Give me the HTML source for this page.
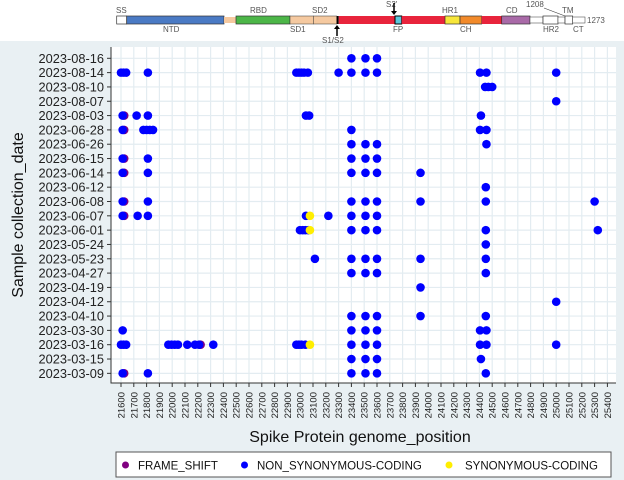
<!DOCTYPE html>
<html><head><meta charset="utf-8"><style>
html,body{margin:0;padding:0;background:#fff}
svg{display:block;font-family:"Liberation Sans",sans-serif}
</style></head><body>
<svg id="c" width="624" height="480" xmlns="http://www.w3.org/2000/svg">
<rect x="0" y="0" width="624" height="480" fill="#fff"/>
<rect x="0" y="41" width="624" height="439" fill="#e9f0f3"/>
<g id="protein" font-size="8" fill="#555">
<rect x="116.7" y="16" width="10" height="8" fill="#fff" stroke="#333" stroke-width="0.7"/>
<rect x="126.7" y="16" width="97.3" height="8" fill="#4a7ac4" stroke="#333" stroke-width="0.7"/>
<rect x="224" y="17" width="12" height="6" fill="#f5c9a0"/>
<rect x="236" y="16" width="54" height="8" fill="#4cb648" stroke="#333" stroke-width="0.7"/>
<rect x="290" y="16" width="23.3" height="8" fill="#f5c9a0" stroke="#333" stroke-width="0.5"/>
<rect x="313.3" y="16" width="23.4" height="8" fill="#f5c9a0" stroke="#333" stroke-width="0.5"/>
<rect x="336.7" y="16" width="2" height="8" fill="#000"/>
<rect x="338.7" y="16" width="56.3" height="8" fill="#e8243c"/>
<rect x="395" y="16" width="6.7" height="8" fill="#5bc8dc" stroke="#000" stroke-width="1"/>
<rect x="401.7" y="16" width="43.3" height="8" fill="#e8243c"/>
<rect x="445" y="16" width="15" height="8" fill="#f7e63a" stroke="#333" stroke-width="0.7"/>
<rect x="460" y="16" width="21.7" height="8" fill="#f28a2a" stroke="#333" stroke-width="0.7"/>
<rect x="481.7" y="16" width="20" height="8" fill="#e8243c"/>
<rect x="501.7" y="16" width="28.3" height="8" fill="#a96aa8" stroke="#333" stroke-width="0.7"/>
<rect x="530" y="17" width="13" height="6" fill="#fff" stroke="#333" stroke-width="0.5"/>
<rect x="543" y="16" width="15" height="8" fill="#fff" stroke="#333" stroke-width="0.7"/>
<rect x="558" y="17" width="7" height="6" fill="#fff" stroke="#333" stroke-width="0.5"/>
<rect x="565" y="16" width="7.7" height="8" fill="#fff" stroke="#333" stroke-width="0.7"/>
<rect x="572.7" y="17" width="12.3" height="6" fill="#fff" stroke="#333" stroke-width="0.5"/>
<text x="116" y="13">SS</text><text x="250" y="13">RBD</text><text x="312" y="13">SD2</text>
<text x="386" y="7">S2'</text><text x="442" y="13">HR1</text><text x="506" y="13">CD</text>
<text x="526" y="7">1208</text><text x="562" y="13">TM</text><text x="587" y="23">1273</text>
<text x="163" y="32">NTD</text><text x="290" y="32">SD1</text><text x="393" y="32">FP</text>
<text x="460" y="32">CH</text><text x="543" y="32">HR2</text><text x="573" y="32">CT</text>
<text x="322" y="43">S1/S2</text>
<line x1="394" y1="3" x2="394" y2="13" stroke="#000" stroke-width="1.5"/><path d="M391 11 L397 11 L394 15Z" fill="#000"/>
<line x1="337" y1="27" x2="337" y2="36" stroke="#000" stroke-width="1.5"/><path d="M334 29 L340 29 L337 25Z" fill="#000"/>
<line x1="544" y1="8" x2="565" y2="16" stroke="#333" stroke-width="0.6"/>
</g>
<rect x="111" y="47" width="505" height="336" fill="#fff"/>
<g id="grid"></g><g id="axes"></g><g id="pts"></g>
<text x="360" y="442" text-anchor="middle" font-size="16" fill="#111">Spike Protein genome_position</text>
<text transform="translate(23,215) rotate(-90)" text-anchor="middle" font-size="16" fill="#111">Sample collection_date</text>
<g>
<rect x="116" y="452" width="495" height="25" fill="#fff" stroke="#555" stroke-width="1"/>
<g><circle cx="125.5" cy="465" r="3.5" fill="#800080"/><text x="138" y="469.5" font-size="11.5" fill="#111">FRAME_SHIFT</text></g>
<g><circle cx="244.5" cy="465" r="3.5" fill="#0000ff"/><text x="257" y="469.5" font-size="11.5" fill="#111">NON_SYNONYMOUS-CODING</text></g>
<g><circle cx="449" cy="465" r="3.5" fill="#ffee00"/><text x="465" y="469.5" font-size="11.5" fill="#111">SYNONYMOUS-CODING</text></g>
</g>
</svg>
<script>
const dates=["2023-08-16","2023-08-14","2023-08-10","2023-08-07","2023-08-03","2023-06-28","2023-06-26","2023-06-15","2023-06-14","2023-06-12","2023-06-08","2023-06-07","2023-06-01","2023-05-24","2023-05-23","2023-04-27","2023-04-19","2023-04-12","2023-04-10","2023-03-30","2023-03-16","2023-03-15","2023-03-09"];
const xTicks=[];for(let v=21600;v<=25400;v+=100)xTicks.push(v);
const fsDate=["2023-08-03","2023-06-28","2023-06-15","2023-06-14","2023-06-08","2023-06-07","2023-03-16","2023-03-09"];
const fsPos=[21625,21625,21625,21625,21625,21625,22222,21625];
const synDate=["2023-06-07","2023-06-01","2023-03-16"];
const synPos=[23076,23076,23076];
const nsDate=[];const nsPos=[];
function add(d,arr){arr.forEach(p=>{nsDate.push(d);nsPos.push(p);});}
add("2023-08-16",[23400,23510,23600]);
add("2023-08-14",[21600,21620,21640,21810,22970,22990,23010,23030,23060,23300,23400,23510,23600,24405,24455,25000]);
add("2023-08-10",[24445,24470,24500]);
add("2023-08-07",[25000]);
add("2023-08-03",[21613,21722,21810,23045,23070,24412]);
add("2023-06-28",[21613,21775,21800,21825,21850,23400,24405,24455]);
add("2023-06-26",[23400,23510,23600,24455]);
add("2023-06-15",[21613,21810,23400,23510,23600]);
add("2023-06-14",[21613,21810,23400,23510,23600,23940]);
add("2023-06-12",[24450]);
add("2023-06-08",[21613,21810,23400,23510,23600,23940,24450,25300]);
add("2023-06-07",[21613,21730,21810,23045,23220,23400,23510,23600]);
add("2023-06-01",[22998,23020,23040,23063,23400,23510,23600,24450,25325]);
add("2023-05-24",[24450]);
add("2023-05-23",[23115,23400,23510,23600,23940,24450]);
add("2023-04-27",[23400,23510,23600,24450]);
add("2023-04-19",[23940]);
add("2023-04-12",[25000]);
add("2023-04-10",[23400,23510,23600,23940,24450]);
add("2023-03-30",[21613,23400,23510,23600,24405,24455]);
add("2023-03-16",[21600,21620,21640,21970,21995,22020,22045,22118,22178,22210,22321,22970,22990,23010,23040,23400,23510,23600,24405,24455,25000]);
add("2023-03-15",[23400,23510,23600,24412]);
add("2023-03-09",[21613,21810,23400,23510,23600,24450]);

const NS="http://www.w3.org/2000/svg";
const X=v=>121+(v-21600)/100*12.8;
const Y=d=>58.3+dates.indexOf(d)*14.32;
function mk(t,a,p){const e=document.createElementNS(NS,t);for(const k in a)e.setAttribute(k,a[k]);p.appendChild(e);return e;}
const grid=document.getElementById('grid'),axes=document.getElementById('axes'),pts=document.getElementById('pts');
xTicks.forEach(v=>{
 const l=mk('line',{x1:X(v),x2:X(v),y1:47,y2:383,stroke:'#e3ecf1','stroke-width':1.2},grid);
 
 
 mk('line',{x1:X(v),x2:X(v),y1:383,y2:387,stroke:'#333'},axes);
 const t=mk('text',{transform:`translate(${X(v)+3.5},${392}) rotate(-90)`,'text-anchor':'end','font-size':9.5,fill:'#222'},axes);
 t.textContent=v;
 
 
});
dates.forEach(d=>{
 const l=mk('line',{x1:111,x2:616,y1:Y(d),y2:Y(d),stroke:'#e3ecf1','stroke-width':1.2},grid);
 
 
 mk('line',{x1:107,x2:111,y1:Y(d),y2:Y(d),stroke:'#333'},axes);
 const t=mk('text',{x:104,y:Y(d)+4.5,'text-anchor':'end','font-size':12.8,fill:'#222'},axes);
 t.textContent=d;
 
 
});
mk('line',{x1:111,x2:111,y1:47,y2:383.5,stroke:'#333'},axes);
mk('line',{x1:111,x2:616,y1:383,y2:383,stroke:'#333'},axes);
fsDate.forEach((d,i)=>{const c=mk('circle',{cx:X(fsPos[i]),cy:Y(d),r:4.3,fill:'#800080'},pts);
 
 });
nsDate.forEach((d,i)=>{const c=mk('circle',{cx:X(nsPos[i]),cy:Y(d),r:4.3,fill:'#0000ff'},pts);
 
 });
synDate.forEach((d,i)=>{const c=mk('circle',{cx:X(synPos[i]),cy:Y(d),r:4.3,fill:'#ffee00'},pts);
 
 });
</script>
</body></html>
